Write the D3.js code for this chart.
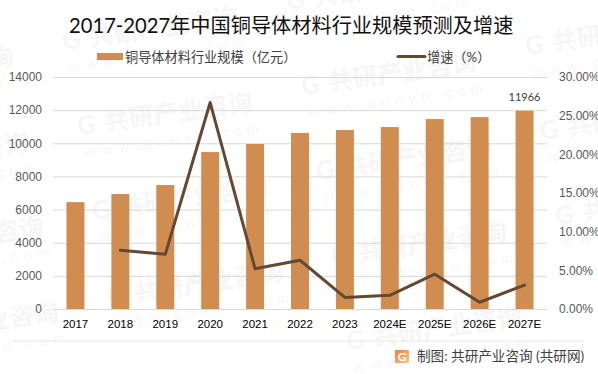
<html>
<head>
<meta charset="utf-8">
<title>铜导体材料行业规模</title>
<script src="https://d3js.org/d3.v7.min.js"></script>
<style>
body { margin: 0; background: #fff; }
svg { display: block; font-family: Lato, "Noto Sans CJK SC", sans-serif; }
.domain { display: none; }
.tick line { stroke: #d9d9d9; }
</style>
</head>
<body>
<div id="chart"></div>
<script>
// data
var years = ["2017","2018","2019","2020","2021","2022","2023","2024E","2025E","2026E","2027E"];
var sizeValues = [6450,6940,7480,9470,9960,10620,10800,10980,11460,11580,11966];
var growthValues = [null,7.6,7.07,26.7,5.2,6.3,1.5,1.77,4.5,0.87,3.1];
var sizeTicks = [0,2000,4000,6000,8000,10000,12000,14000];
var growthTicks = [0,5,10,15,20,25,30];

var width = 598, height = 374;
var left = 53, right = 547, top_ = 77, bottom = 309;

var svg = d3.select("#chart").append("svg").attr("width", width).attr("height", height);

// watermark lattice behind everything
var wm = svg.append("g");
for (var i = -1; i < 3; i++) {
  for (var j = -1; j < 4; j++) {
    var wx = 77 + i * 224 + j * 15;
    var wy = 125 - i * 40 + j * 85;
    if (wx > width - 40 || wy > height || wy < 0) continue;
    var g = wm.append("g").attr("transform", "translate(" + wx + "," + wy + ") rotate(-8)");
    g.append("text").attr("x", 0).attr("y", 10).attr("fill", "#f6f6f6")
      .style("font-size", "25px").style("font-weight", 700).text("G");
    g.append("text").attr("x", 27).attr("y", 10).attr("fill", "#f6f6f6")
      .style("font-size", "25px").style("font-weight", 700).text("共研产业咨询");
    g.append("text").attr("x", 3).attr("y", 33).attr("fill", "#f7f7f7")
      .style("font-size", "15px").style("letter-spacing", "5.5px").text("www.gonyn.com");
  }
}

var x = d3.scaleBand().domain(years).range([left, right]).paddingInner(0.6).paddingOuter(0.3);
var xPoint = d => x(d) + x.bandwidth() / 2;
var yLeft = d3.scaleLinear().domain([0, 14000]).range([bottom, top_]);
var yRight = d3.scaleLinear().domain([0, 30]).range([bottom, top_]);

// left axis + gridlines
var axisL = svg.append("g").attr("transform", "translate(" + left + ",0)")
  .call(d3.axisLeft(yLeft).tickValues(sizeTicks).tickSize(-(right - left)).tickPadding(11).tickFormat(d3.format("d")));
axisL.selectAll("text").attr("fill", "#595959").style("font-size", "12px");

var axisR = svg.append("g").attr("transform", "translate(" + right + ",0)")
  .call(d3.axisRight(yRight).tickValues(growthTicks).tickSize(0).tickPadding(12).tickFormat(d => d.toFixed(2) + "%"));
axisR.selectAll("text").attr("fill", "#595959").style("font-size", "12px");

var axisB = svg.append("g").attr("transform", "translate(0," + bottom + ")")
  .call(d3.axisBottom(x).tickSize(0).tickPadding(11));
axisB.selectAll("text").attr("fill", "#000").style("font-size", "11.5px");

// bars
svg.append("g").selectAll("rect").data(sizeValues).enter().append("rect")
  .attr("x", (d, i) => x(years[i]))
  .attr("width", x.bandwidth())
  .attr("y", d => yLeft(d))
  .attr("height", d => bottom - yLeft(d))
  .attr("fill", "#d18d4f");

// growth line
var line = d3.line()
  .defined(d => d !== null)
  .x((d, i) => xPoint(years[i]))
  .y(d => yRight(d));
svg.append("path").attr("d", line(growthValues))
  .attr("fill", "none").attr("stroke", "#634832").attr("stroke-width", 3)
  .attr("stroke-linecap", "round").attr("stroke-linejoin", "round");

// label on last bar
svg.append("text").attr("x", xPoint("2027E")).attr("y", yLeft(11966) - 10)
  .attr("text-anchor", "middle").attr("fill", "#404040").style("font-size", "11px").text("11966");

// title
svg.append("text").attr("x", 69).attr("y", 33).attr("fill", "#111")
  .style("font-size", "20.2px").text("2017-2027年中国铜导体材料行业规模预测及增速");

// legend
svg.append("rect").attr("x", 97).attr("y", 53).attr("width", 26).attr("height", 7).attr("fill", "#d18d4f");
svg.append("text").attr("x", 125).attr("y", 62).attr("fill", "#404040")
  .style("font-size", "13.2px").text("铜导体材料行业规模（亿元）");
svg.append("line").attr("x1", 398).attr("x2", 425).attr("y1", 56.5).attr("y2", 56.5)
  .attr("stroke", "#634832").attr("stroke-width", 3).attr("stroke-linecap", "round");
svg.append("text").attr("x", 427).attr("y", 62).attr("fill", "#404040")
  .style("font-size", "13.2px").text("增速（%）");

// footer
svg.append("line").attr("x1", 12).attr("x2", 585).attr("y1", 341).attr("y2", 341).attr("stroke", "#e8e8e8");
var grad = svg.append("defs").append("linearGradient").attr("id", "logo").attr("x1", 0).attr("x2", 1).attr("y1", 0).attr("y2", 1);
grad.append("stop").attr("offset", "0%").attr("stop-color", "#ee7a3c");
grad.append("stop").attr("offset", "100%").attr("stop-color", "#f9c98a");
svg.append("rect").attr("x", 395).attr("y", 350).attr("width", 14).attr("height", 13).attr("rx", 1).attr("fill", "url(#logo)");
svg.append("text").attr("x", 402).attr("y", 361).attr("text-anchor", "middle").attr("fill", "#fff")
  .style("font-size", "12px").style("font-weight", 700).text("G");
svg.append("text").attr("x", 417).attr("y", 361).attr("fill", "#404040")
  .style("font-size", "13.6px").text("制图: 共研产业咨询 (共研网)");
</script>
</body>
</html>
